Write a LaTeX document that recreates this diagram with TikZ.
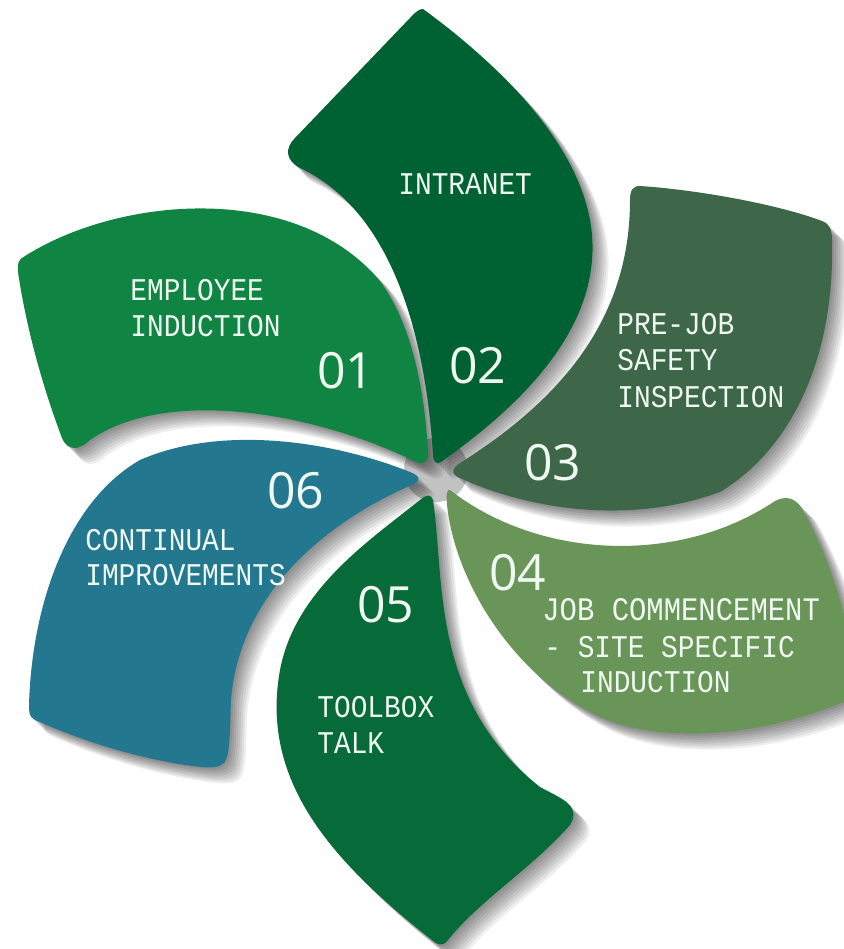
\documentclass[tikz,border=0pt]{standalone}
\usepackage{fontspec}
\newfontfamily\monofont[FakeStretch=0.88]{Liberation Mono}
\newfontfamily\numfont{Open Sans}
\definecolor{cA}{RGB}{16,133,67}
\definecolor{cB}{RGB}{0,97,50}
\definecolor{cC}{RGB}{62,103,74}
\definecolor{cD}{RGB}{106,149,89}
\definecolor{cE}{RGB}{6,107,56}
\definecolor{cF}{RGB}{35,120,144}
\definecolor{txt}{RGB}{240,248,242}
\newcommand\petalA[1]{\fill[#1] (22,258) .. controls (110,200) and (280,180) .. (370,270)
  .. controls (410,310) and (425,390) .. (428,452)
  .. controls (429,463) and (422,465) .. (414,461)
  .. controls (320,415) and (170,385) .. (90,440)
  .. controls (80,450) and (68,452) .. (62,438)
  .. controls (40,380) and (25,320) .. (18,272)
  .. controls (17,264) and (19,260) .. (22,258) -- cycle;}
\newcommand\petalB[1]{\fill[#1] (423,9) .. controls (520,80) and (600,170) .. (592,260)
  .. controls (585,350) and (500,420) .. (441,462)
  .. controls (436,465) and (433,461) .. (433,455)
  .. controls (425,330) and (390,210) .. (300,168)
  .. controls (285,160) and (285,148) .. (295,138)
  -- (410,18) .. controls (416,11) and (420,9) .. (423,9) -- cycle;}
\newcommand\petalC[1]{\fill[#1] (640,186) .. controls (700,190) and (780,205) .. (822,221)
  .. controls (830,224) and (832,230) .. (832,240)
  .. controls (835,360) and (790,450) .. (720,492)
  .. controls (630,525) and (530,510) .. (460,478)
  .. controls (450,474) and (452,468) .. (460,463)
  .. controls (560,400) and (630,320) .. (630,200)
  .. controls (630,190) and (633,186) .. (640,186) -- cycle;}
\newcommand\petalD[1]{\fill[#1] (450,490) .. controls (540,560) and (680,565) .. (775,501)
  .. controls (788,494) and (798,500) .. (804,512)
  .. controls (830,560) and (850,620) .. (855,680)
  -- (852,698) .. controls (760,740) and (650,745) .. (590,712)
  .. controls (510,670) and (455,580) .. (447,505)
  .. controls (446,494) and (447,489) .. (450,490) -- cycle;}
\newcommand\petalE[1]{\fill[#1] (433,500) .. controls (445,580) and (430,700) .. (540,787)
  .. controls (560,798) and (582,805) .. (570,825)
  .. controls (530,870) and (480,900) .. (448,940)
  .. controls (443,947) and (437,945) .. (432,940)
  .. controls (330,860) and (260,780) .. (280,670)
  .. controls (295,590) and (370,540) .. (420,500)
  .. controls (427,494) and (431,494) .. (433,500) -- cycle;}
\newcommand\petalF[1]{\fill[#1] (414,484) .. controls (330,520) and (240,590) .. (231,700)
  .. controls (230,730) and (230,750) .. (226,760)
  .. controls (222,768) and (212,768) .. (200,767)
  .. controls (140,760) and (80,740) .. (35,720)
  .. controls (29,717) and (29,712) .. (29,705)
  .. controls (32,600) and (70,500) .. (140,460)
  .. controls (220,425) and (330,440) .. (410,472)
  .. controls (420,476) and (421,480) .. (414,484) -- cycle;}
\tikzset{
  shade layer/.style={black,opacity=.065},
  mono/.style={font=\monofont\fontsize{18}{22}\selectfont, text=txt, inner sep=0pt, anchor=base west},
  num/.style={font=\numfont\fontsize{28.4}{30}\selectfont, text=txt, inner sep=0pt, anchor=base west},
}
\begin{document}
\begin{tikzpicture}[x=0.02cm,y=-0.02cm]
\useasboundingbox (0,0) rectangle (844,949);
\clip (0,0) rectangle (844,949);
\fill[white] (0,0) rectangle (844,949);
\fill[black!24] (436,470) circle (32);
\foreach \s in {2,4,...,16}{
  \petalA{shade layer,shift={(\s,\s)}}
  \petalB{shade layer,shift={(\s,\s)}}
  \petalC{shade layer,shift={(\s,\s)}}
  \petalD{shade layer,shift={(\s,\s)}}
  \petalE{shade layer,shift={(\s,\s)}}
  \petalF{shade layer,shift={(\s,\s)}}
}
\petalA{cA}
\petalB{cB}
\petalC{cC}
\petalD{cD}
\petalE{cE}
\petalF{cF}
% texts
\node[mono] (t2) at (398,195) {INTRANET};
\node[mono] (t1a) at (130,300) {EMPLOYEE};
\node[mono] (t1b) at (130,337) {INDUCTION};
\node[mono] (t3a) at (617,335) {PRE-JOB};
\node[mono] (t3b) at (617,370) {SAFETY};
\node[mono] (t3c) at (617,407) {INSPECTION};
\node[mono, font=\monofont\fontsize{18.7}{22}\selectfont] (t4a) at (542,620) {JOB COMMENCEMENT};
\node[mono] (t4b) at (544,657) {- SITE SPECIFIC};
\node[mono] (t4c) at (580,692) {INDUCTION};
\node[mono] (t5a) at (317,717) {TOOLBOX};
\node[mono] (t5b) at (317,753) {TALK};
\node[mono] (t6a) at (85,550) {CONTINUAL};
\node[mono] (t6b) at (85,585) {IMPROVEMENTS};
\node[num] (n1) at (317,388) {01};
\node[num] (n2) at (449,383) {02};
\node[num] (n3) at (524,480) {03};
\node[num] (n4) at (489,590) {04};
\node[num] (n5) at (357,622) {05};
\node[num] (n6) at (267,508) {06};
\end{tikzpicture}
\end{document}
